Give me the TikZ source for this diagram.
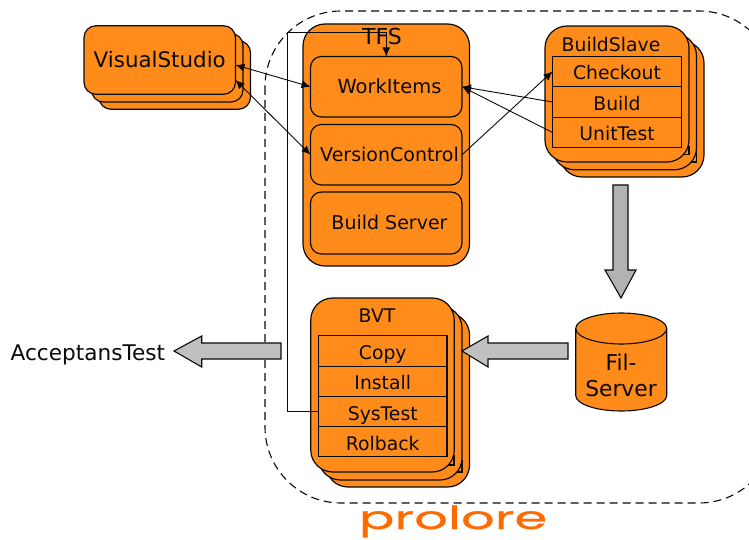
\documentclass[tikz,border=0pt]{standalone}
\usepackage{fontspec}
\setmainfont{DejaVu Sans}
\newfontfamily\logofont[FakeStretch=1.65,FakeBold=0.6]{Poppins}
\usetikzlibrary{arrows.meta}
\definecolor{orfill}{HTML}{FF8C1A}
\definecolor{logoor}{HTML}{FF6A00}
\definecolor{grayA}{HTML}{B2B2B2}
\definecolor{grayB}{HTML}{C0C0C0}
\definecolor{ink}{HTML}{0A0A0A}
\tikzset{
  box/.style={draw=ink,fill=orfill,line width=1.2pt,inner sep=0pt,outer sep=0pt},
  cell/.style={draw=ink,fill=orfill,line width=1.2pt,inner sep=0pt,outer sep=0pt,minimum width=129pt,minimum height=30pt,text=ink,text height=17pt,text depth=0pt,font=\fontsize{18.8}{22}\selectfont},
  txt/.style={text=ink,inner sep=0pt,font=\fontsize{19}{22}\selectfont},
  wire/.style={draw=ink,line width=.9pt},
  tip/.style={-{Latex[length=9pt,width=8pt]}},
  twotip/.style={{Latex[length=9pt,width=8pt]}-{Latex[length=9pt,width=8pt]}},
  blockA/.style={draw=ink,fill=grayA,line width=1.1pt,line join=miter},
  blockB/.style={draw=ink,fill=grayB,line width=1.1pt,line join=miter},
  notch/.style={draw=ink,line width=1.1pt}
}
\begin{document}
\begin{tikzpicture}[x=1pt,y=-1pt]
\useasboundingbox (0,0) rectangle (749,540);
% dashed boundary (runs off the right edge)
\begin{scope}
\clip (0,0) rectangle (749,540);
\draw[draw=ink,line width=1.1pt,dash pattern=on 8pt off 5pt,rounded corners=76pt] (265,11) rectangle (775,503);
\end{scope}
\coordinate (polyA) at (287,411.5);
\coordinate (polyB) at (287,32);
\coordinate (polyC) at (386.25,32);
% TFS
\node[box,rounded corners=22pt,minimum width=166.5pt,minimum height=242pt] (tfs) at (386.25,145) {};
\node[box,rounded corners=11pt,minimum width=151.5pt,minimum height=60.5pt] (work) at (386.25,86.75) {};
\node[box,rounded corners=11pt,minimum width=151.5pt,minimum height=60.5pt] (vc) at (386.25,154.75) {};
\node[box,rounded corners=11pt,minimum width=151.5pt,minimum height=62pt] (bs) at (386.25,223) {};
\node[txt,font=\fontsize{22}{26}\selectfont] (tfsT) at (382,36.5) {TFS};
\node[txt,font=\fontsize{19.5}{22}\selectfont] (workT) at (389.5,86.5) {WorkItems};
\node[txt] (vcT) at (389.5,154.5) {VersionControl};
\node[txt] (bsT) at (389.5,222.5) {Build Server};
% VisualStudio stack
\node[box,rounded corners=12pt,minimum width=151.5pt,minimum height=68.5pt] (vs3) at (174.75,75) {};
\node[box,rounded corners=12pt,minimum width=151.5pt,minimum height=68.5pt] (vs2) at (167.25,67.75) {};
\node[box,rounded corners=12pt,minimum width=151.5pt,minimum height=68.5pt] (vs1) at (159.75,60) {};
\node[txt,font=\fontsize{21.4}{25}\selectfont] (vsT) at (159.75,59.5) {VisualStudio};
% BuildSlave stack
\node[box,rounded corners=22pt,minimum width=144pt,minimum height=136pt] (bl3) at (632,109) {};
\draw[notch] (696.5,150) -- (696.5,162) -- (685,162);
\node[box,rounded corners=22pt,minimum width=144pt,minimum height=136pt] (bl2) at (624.5,101.75) {};
\draw[notch] (689,146) -- (689,154.7) -- (678,154.7);
\node[box,rounded corners=22pt,minimum width=144pt,minimum height=136pt] (bl1) at (617,94) {};
\node[txt,font=\fontsize{18.8}{22}\selectfont] (blT) at (611,44) {BuildSlave};
\node[cell,minimum height=30.5pt] (chk) at (617,71.5) {Checkout};
\node[cell,minimum height=30.5pt] (bld) at (617,102) {Build};
\node[cell,minimum height=30.5pt] (ut) at (617,132.5) {UnitTest};
% BVT stack
\node[box,rounded corners=22pt,minimum width=143.5pt,minimum height=174pt] (bv3) at (397.75,400) {};
\draw[notch] (462,460) -- (462,472) -- (450,472);
\node[box,rounded corners=22pt,minimum width=143.5pt,minimum height=174pt] (bv2) at (390.25,393) {};
\draw[notch] (454,455) -- (454,465) -- (444,465);
\node[box,rounded corners=22pt,minimum width=143.5pt,minimum height=174pt] (bv1) at (382.5,385) {};
\node[txt,font=\fontsize{18.8}{22}\selectfont] (bvT) at (377,316) {BVT};
\node[cell,minimum width=128.5pt,minimum height=30.25pt] (cp) at (382.75,351) {Copy};
\node[cell,minimum width=128.5pt,minimum height=30.25pt] (ins) at (382.75,381.25) {Install};
\node[cell,minimum width=128.5pt,minimum height=30.25pt] (sys) at (382.75,411.5) {SysTest};
\node[cell,minimum width=128.5pt,minimum height=30.25pt] (rb) at (382.75,441.75) {Rolback};
% Fil-Server cylinder
\draw[draw=ink,fill=orfill,line width=1.1pt] (575.7,328.5) arc[start angle=180,end angle=0,x radius=45.5pt,y radius=15.5pt] -- (666.7,395.5) arc[start angle=0,end angle=-180,x radius=45.5pt,y radius=15.5pt] -- cycle;
\draw[draw=ink,line width=1.1pt] (575.7,328.5) arc[start angle=180,end angle=360,x radius=45.5pt,y radius=15.5pt];
\node[txt,align=center,font=\fontsize{21.8}{26}\selectfont] (fil) at (621,375) {Fil-\\Server};
% block arrows
\draw[blockA] (613,185) -- (628,185) -- (628,270) -- (636,270) -- (621,298) -- (605,270) -- (613,270) -- cycle;
\draw[blockB] (568,343) -- (488,343) -- (488,336) -- (462,351) -- (488,367) -- (488,359) -- (568,359) -- cycle;
\draw[blockB] (281,343) -- (201.7,343) -- (201.7,336) -- (174,351) -- (201.7,367) -- (201.7,359) -- (281,359) -- cycle;
\node[txt,anchor=west,font=\fontsize{21.6}{25}\selectfont] (acc) at (10.5,354.5) {AcceptansTest};
% connectors
\draw[wire,tip] (sys.west) -- (polyA) -- (polyB) -- (polyC) -- (work.north);
\draw[wire,twotip] (vs1.east |- 0,65) -- (work.west);
\draw[wire,twotip] (vs1.east |- 0,80) -- (vc.west);
\draw[wire,tip] (vc.east) -- (chk.west);
\draw[wire,tip] (bld.west) -- (work.east);
\draw[wire,tip] (ut.west) -- (work.east);
% logo
\node[inner sep=0pt,text=logoor,anchor=base] (logo) at (453,529) {\logofont\fontsize{32}{36}\selectfont prolore};
\end{tikzpicture}
\end{document}
